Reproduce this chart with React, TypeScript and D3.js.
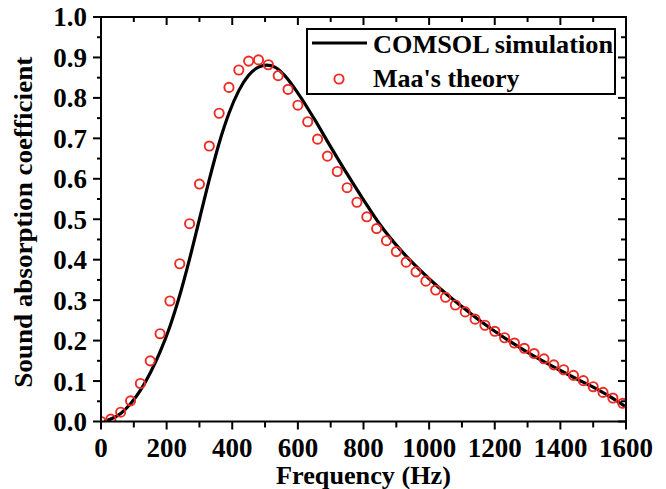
import React from "react";
import * as d3 from "d3";

const simFreq = [10, 30, 60, 90, 120, 150, 180, 210, 240, 270, 300, 330, 360, 390, 420, 450, 480, 505, 530, 560, 600, 650, 700, 750, 800, 850, 900, 950, 1000, 1050, 1100, 1150, 1200, 1250, 1300, 1350, 1400, 1450, 1500, 1550, 1600];
const simAlpha = [0.0, 0.006, 0.02, 0.044, 0.077, 0.12, 0.172, 0.235, 0.312, 0.402, 0.5, 0.598, 0.688, 0.762, 0.818, 0.856, 0.876, 0.881, 0.876, 0.855, 0.812, 0.748, 0.679, 0.612, 0.548, 0.487, 0.436, 0.392, 0.353, 0.317, 0.284, 0.252, 0.223, 0.196, 0.171, 0.148, 0.126, 0.105, 0.085, 0.062, 0.036];

const maaFreq = d3.range(0, 1600, 30);
const maaAlpha = [0.0, 0.006, 0.023, 0.051, 0.094, 0.15, 0.217, 0.298, 0.39, 0.489, 0.587, 0.681, 0.762, 0.826, 0.869, 0.891, 0.894, 0.882, 0.855, 0.821, 0.782, 0.741, 0.698, 0.656, 0.618, 0.578, 0.542, 0.506, 0.477, 0.447, 0.42, 0.394, 0.37, 0.347, 0.325, 0.307, 0.288, 0.271, 0.253, 0.238, 0.223, 0.207, 0.194, 0.181, 0.168, 0.155, 0.14, 0.128, 0.114, 0.101, 0.086, 0.072, 0.058, 0.045];

const xTicks = [0, 200, 400, 600, 800, 1000, 1200, 1400, 1600];
const xMinor = d3.range(100, 1600, 200);
const yTicks = [0, 0.1, 0.2, 0.3, 0.4, 0.5, 0.6, 0.7, 0.8, 0.9, 1.0];
const yMinor = d3.range(0.05, 1.0, 0.1);

const legendLabels = ["COMSOL simulation", "Maa's theory"];
const xTitle = "Frequency (Hz)";
const yTitle = "Sound absorption coefficient";

const W = 666, H = 489;
const L = 101, R = 626, T = 17, B = 421.5;
const font = "'Liberation Serif', 'Times New Roman', serif";

export default function App() {
  const x = d3.scaleLinear().domain([0, 1600]).range([L, R]);
  const y = d3.scaleLinear().domain([0, 1]).range([B, T]);
  const line = d3.line<number>().x((_, i) => x(simFreq[i])).y((d) => y(d)).curve(d3.curveMonotoneX);
  const fmt = d3.format(".1f");

  return (
    <svg width={W} height={H} style={{ position: "absolute", left: 0, top: 0, background: "#fff" }}>
      <rect x={0} y={0} width={W} height={H} fill="#fff" />
      <defs>
        <clipPath id="plotclip">
          <rect x={L} y={T} width={R - L} height={B - T} />
        </clipPath>
      </defs>
      <g clipPath="url(#plotclip)">
        <path d={line(simAlpha) || ""} fill="none" stroke="#000" strokeWidth={3.2} />
        {maaAlpha.map((v, i) => (
          <circle key={i} cx={x(maaFreq[i])} cy={y(v)} r={4.6} fill="none" stroke="#ee2a24" strokeWidth={1.9} />
        ))}
      </g>
      <rect x={L} y={T} width={R - L} height={B - T} fill="none" stroke="#000" strokeWidth={2} />
      {xTicks.map((t) => (
        <g key={"xb" + t}>
          <line x1={x(t)} x2={x(t)} y1={B} y2={B + 8} stroke="#000" strokeWidth={2} />
          <line x1={x(t)} x2={x(t)} y1={T} y2={T + 8} stroke="#000" strokeWidth={2} />
          <text x={x(t)} y={457} textAnchor="middle" fontFamily={font} fontWeight="bold" fontSize={27}>{t}</text>
        </g>
      ))}
      {xMinor.map((t) => (
        <g key={"xm" + t}>
          <line x1={x(t)} x2={x(t)} y1={B} y2={B + 6} stroke="#000" strokeWidth={2} />
          <line x1={x(t)} x2={x(t)} y1={T} y2={T + 5} stroke="#000" strokeWidth={2} />
        </g>
      ))}
      {yTicks.map((t) => (
        <g key={"yt" + t}>
          <line x1={L - 8} x2={L} y1={y(t)} y2={y(t)} stroke="#000" strokeWidth={2} />
          <line x1={R - 8} x2={R} y1={y(t)} y2={y(t)} stroke="#000" strokeWidth={2} />
          <text x={87} y={y(t)} dy="0.35em" textAnchor="end" fontFamily={font} fontWeight="bold" fontSize={27}>{fmt(t)}</text>
        </g>
      ))}
      {yMinor.map((t) => (
        <g key={"ym" + t}>
          <line x1={L - 4} x2={L} y1={y(t)} y2={y(t)} stroke="#000" strokeWidth={2} />
          <line x1={R - 5} x2={R} y1={y(t)} y2={y(t)} stroke="#000" strokeWidth={2} />
        </g>
      ))}
      <text x={x(800)} y={484} textAnchor="middle" fontFamily={font} fontWeight="bold" fontSize={26} textLength={175} lengthAdjust="spacingAndGlyphs">{xTitle}</text>
      <text transform={`translate(32,${(T + B) / 2 + 3}) rotate(-90)`} textAnchor="middle" fontFamily={font} fontWeight="bold" fontSize={26} textLength={331} lengthAdjust="spacingAndGlyphs">{yTitle}</text>
      <rect x={307} y={29} width={308} height={65} fill="#fff" stroke="#000" strokeWidth={2} />
      <line x1={312} x2={367} y1={43} y2={43} stroke="#000" strokeWidth={3.2} />
      <text x={373} y={53} fontFamily={font} fontWeight="bold" fontSize={26} textLength={240} lengthAdjust="spacingAndGlyphs">{legendLabels[0]}</text>
      <circle cx={339} cy={79} r={4.6} fill="none" stroke="#ee2a24" strokeWidth={1.9} />
      <text x={373} y={87} fontFamily={font} fontWeight="bold" fontSize={26}>{legendLabels[1]}</text>
    </svg>
  );
}
